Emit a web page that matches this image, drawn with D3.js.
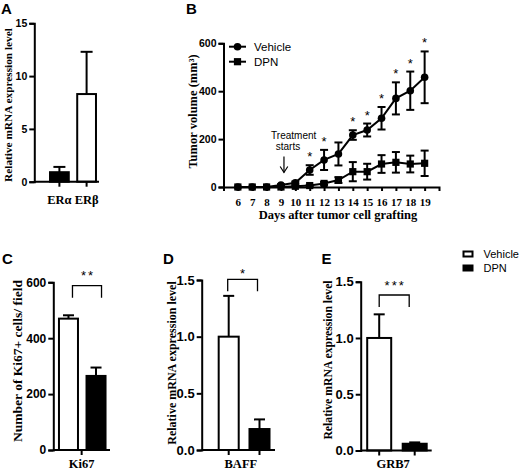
<!DOCTYPE html>
<html><head><meta charset="utf-8">
<script src="https://cdn.jsdelivr.net/npm/d3@7"></script>
<style>body{margin:0;background:#fff}</style>
</head><body>
<svg id="c" width="520" height="470"></svg>
<script>
// ---------------- DATA ----------------
// Panel A
const aCategories = ["ERα", "ERβ"];
const aValues = [0.9, 8.3];
const aErrors = [0.5, 4.0];
const aTicks = [0, 5, 10, 15];
// Panel B
const bDays = [6, 7, 8, 9, 10, 11, 12, 13, 14, 15, 16, 17, 18, 19];
const bVehicleMean = [0, 0, 0, 8, 18, 71, 113, 138, 217, 238, 287, 370, 402, 458];
const bVehicleSem  = [0, 0, 0, 3, 5, 20, 42, 48, 20, 27, 47, 67, 80, 108];
const bDpnMean = [0, 0, 0, 0, 3, 6, 15, 29, 64, 64, 96, 103, 96, 99];
const bDpnSem  = [0, 0, 0, 0, 2, 3, 6, 12, 40, 33, 37, 43, 35, 53];
const bSignificantDays = [11, 12, 14, 15, 16, 17, 18, 19];
const bTicks = [0, 200, 400, 600];
const bTreatmentDay = 9;
// Panels C, D, E
const groups = ["Vehicle", "DPN"];
const cCategory = "Ki67";
const cValues = [470, 265];
const cErrors = [12, 30];
const cTicks = [0, 200, 400, 600];
const cStars = "**";
const dCategory = "BAFF";
const dValues = [1.0, 0.185];
const dErrors = [0.36, 0.085];
const dStars = "*";
const eCategory = "GRB7";
const eValues = [1.0, 0.06];
const eErrors = [0.21, 0.012];
const eStars = "***";
const mrnaTicks = [0, 0.5, 1.0, 1.5];

// ---------------- DRAW ----------------
const SANS = "'Liberation Sans', Arial, sans-serif";
const SERIF = "'Liberation Serif', 'Times New Roman', serif";
const svg = d3.select("#c");

function styleAxis(g, size, family) {
  g.select(".domain").attr("stroke", "#000").attr("stroke-width", 2);
  g.selectAll(".tick line").attr("stroke", "#000").attr("stroke-width", 2);
  g.selectAll(".tick text").attr("font-family", family).attr("font-weight", "bold")
    .attr("font-size", size).attr("fill", "#000");
}
function letter(t, x, y) {
  svg.append("text").attr("x", x).attr("y", y).text(t)
    .attr("font-family", SANS).attr("font-weight", "bold").attr("font-size", 15);
}
function yTitle(t, x, y, size) {
  svg.append("text").attr("transform", `translate(${x},${y}) rotate(-90)`)
    .attr("text-anchor", "middle").attr("font-family", SERIF).attr("font-weight", "bold")
    .attr("font-size", size).text(t);
}
function errBar(g, cx, yTop, yBot, w) {
  g.append("line").attr("x1", cx).attr("x2", cx).attr("y1", yTop).attr("y2", yBot)
    .attr("stroke", "#000").attr("stroke-width", 2);
  g.append("line").attr("x1", cx - w / 2).attr("x2", cx + w / 2).attr("y1", yTop).attr("y2", yTop)
    .attr("stroke", "#000").attr("stroke-width", 2);
}

// ---- Panel A ----
{
  const y = d3.scaleLinear().domain([0, 15]).range([181.7, 23.3]);
  const x = d3.scaleBand().domain(aCategories).range([45.8, 100.2]).paddingInner(0.31).paddingOuter(0.155);
  const g = svg.append("g");
  aCategories.forEach((c, i) => {
    const cx = x(c) + x.bandwidth() / 2;
    errBar(g, cx, y(aValues[i] + aErrors[i]), y(aValues[i]), 12);
    g.append("rect").attr("x", x(c)).attr("width", x.bandwidth())
      .attr("y", y(aValues[i])).attr("height", y(0) - y(aValues[i]))
      .attr("fill", i === 0 ? "#000" : "#fff").attr("stroke", "#000").attr("stroke-width", 2);
  });
  const gx = svg.append("g").attr("transform", `translate(0,${y(0)})`)
    .call(d3.axisBottom(x).tickSize(5).tickSizeOuter(0).tickPadding(8));
  styleAxis(gx, 12.5, SERIF);
  gx.select(".domain").remove();
  gx.append("line").attr("x1", 34.3).attr("x2", 99).attr("stroke", "#000").attr("stroke-width", 2);
  const gy = svg.append("g").attr("transform", "translate(34.3,0)")
    .call(d3.axisLeft(y).tickValues(aTicks).tickSize(5).tickPadding(2));
  styleAxis(gy, 10.5, SANS);
  yTitle("Relative mRNA expression level", 12, 105, 11.3);
  letter("A", 1, 13.5);
}

// ---- Panel B ----
{
  const x = d3.scaleLinear().domain([5, 20]).range([223.5, 439]);
  const y = d3.scaleLinear().domain([0, 600]).range([187, 43.3]);
  const g = svg.append("g");
  const gx = svg.append("g").attr("transform", `translate(0,${y(0)})`)
    .call(d3.axisBottom(x).tickValues(bDays).tickFormat(d3.format("d")).tickSize(4).tickSizeOuter(4).tickPadding(7));
  styleAxis(gx, 11, SERIF);
  const gy = svg.append("g").attr("transform", `translate(${x(5)},0)`)
    .call(d3.axisLeft(y).tickValues(bTicks).tickSize(5).tickPadding(2));
  styleAxis(gy, 10.5, SANS);

  const line = d3.line().x(d => x(d[0])).y(d => y(d[1]));
  const series = [
    { mean: bVehicleMean, sem: bVehicleSem, shape: "circle" },
    { mean: bDpnMean, sem: bDpnSem, shape: "square" }
  ];
  series.forEach(s => {
    const pts = bDays.map((d, i) => [d, s.mean[i]]);
    g.append("path").attr("d", line(pts)).attr("fill", "none").attr("stroke", "#000").attr("stroke-width", 2);
    bDays.forEach((d, i) => {
      if (s.sem[i] > 0) {
        const lo = y(Math.max(0, s.mean[i] - s.sem[i]));
        errBar(g, x(d), y(s.mean[i] + s.sem[i]), lo, 8);
        g.append("line").attr("x1", x(d) - 4).attr("x2", x(d) + 4).attr("y1", lo).attr("y2", lo)
          .attr("stroke", "#000").attr("stroke-width", 2);
      }
    });
    bDays.forEach((d, i) => {
      if (s.shape === "circle") {
        g.append("circle").attr("cx", x(d)).attr("cy", y(s.mean[i])).attr("r", 3.8).attr("fill", "#000");
      } else {
        g.append("rect").attr("x", x(d) - 3.6).attr("y", y(s.mean[i]) - 3.6)
          .attr("width", 7.2).attr("height", 7.2).attr("fill", "#000");
      }
    });
  });
  bSignificantDays.forEach(d => {
    const i = bDays.indexOf(d);
    g.append("text").attr("x", x(d)).attr("y", y(bVehicleMean[i] + bVehicleSem[i]) - 4)
      .attr("text-anchor", "middle").attr("font-family", SANS).attr("font-size", 13).text("*");
  });
  // treatment annotation
  const ax = x(bTreatmentDay) + 3;
  svg.append("text").attr("x", 293.7).attr("y", 138.5).attr("text-anchor", "middle")
    .attr("font-family", SANS).attr("font-size", 10).text("Treatment");
  svg.append("text").attr("x", 288).attr("y", 150).attr("text-anchor", "middle")
    .attr("font-family", SANS).attr("font-size", 10).text("starts");
  svg.append("line").attr("x1", ax).attr("x2", ax).attr("y1", 156.5).attr("y2", 172.5)
    .attr("stroke", "#000").attr("stroke-width", 1.2);
  svg.append("path").attr("d", `M${ax - 3.8},${166.5} L${ax},${172.5} L${ax + 3.8},${166.5}`)
    .attr("fill", "none").attr("stroke", "#000").attr("stroke-width", 1.2);
  // legend
  const leg = [{ t: "Vehicle", y: 46.7, shape: "circle" }, { t: "DPN", y: 61.7, shape: "square" }];
  leg.forEach(l => {
    svg.append("line").attr("x1", 229).attr("x2", 246).attr("y1", l.y).attr("y2", l.y)
      .attr("stroke", "#000").attr("stroke-width", 2);
    if (l.shape === "circle") svg.append("circle").attr("cx", 237.5).attr("cy", l.y).attr("r", 3.8);
    else svg.append("rect").attr("x", 233.9).attr("y", l.y - 3.6).attr("width", 7.2).attr("height", 7.2);
    svg.append("text").attr("x", 254).attr("y", l.y + 4.2).attr("font-family", SANS)
      .attr("font-size", 11.5).text(l.t);
  });
  yTitle("Tumor volume (mm³)", 196.5, 111.5, 12.5);
  svg.append("text").attr("x", 338).attr("y", 219).attr("text-anchor", "middle")
    .attr("font-family", SERIF).attr("font-weight", "bold").attr("font-size", 12.5)
    .text("Days after tumor cell grafting");
  letter("B", 186, 13.5);
}

// ---- Panels C, D, E ----
function barPanel(cfg) {
  const y = d3.scaleLinear().domain(cfg.domain).range(cfg.yRange);
  const inner = d3.scaleBand().domain(groups).range(cfg.innerRange)
    .paddingInner(cfg.pad).paddingOuter(cfg.pad / 2);
  const outer = d3.scaleBand().domain([cfg.category]).range([cfg.axisX, cfg.xEnd]);
  const g = svg.append("g");
  groups.forEach((gr, i) => {
    const cx = inner(gr) + inner.bandwidth() / 2;
    errBar(g, cx, y(cfg.values[i] + cfg.errors[i]), y(cfg.values[i]), 11);
    g.append("rect").attr("x", inner(gr)).attr("width", inner.bandwidth())
      .attr("y", y(cfg.values[i])).attr("height", y(0) - y(cfg.values[i]))
      .attr("fill", i === 0 ? "#fff" : "#000").attr("stroke", "#000").attr("stroke-width", 2);
  });
  // x axis with category label
  const gx = svg.append("g").attr("transform", `translate(0,${y(0)})`)
    .call(d3.axisBottom(outer).tickSize(cfg.centerTick ? 5 : 0).tickSizeOuter(0));
  styleAxis(gx, 12.5, SERIF);
  gx.selectAll(".tick text").attr("dx", cfg.labelDx || 0).attr("dy", null).attr("y", 468 - y(0));
  gx.select(".domain").remove();
  gx.append("line").attr("x1", cfg.axisX).attr("x2", cfg.xEnd).attr("stroke", "#000").attr("stroke-width", 2);
  if (!cfg.centerTick) {
    const gt = svg.append("g").attr("transform", `translate(0,${y(0)})`)
      .call(d3.axisBottom(inner).tickSize(5).tickSizeOuter(0).tickFormat(""));
    styleAxis(gt, 12.5, SERIF);
    gt.select(".domain").remove();
  }
  const gy = svg.append("g").attr("transform", `translate(${cfg.axisX},0)`)
    .call(d3.axisLeft(y).tickValues(cfg.ticks).tickFormat(cfg.fmt).tickSize(5).tickPadding(2));
  styleAxis(gy, cfg.tickSize, SANS);
  // significance bracket
  const x1 = inner(groups[0]) + inner.bandwidth() / 2 + cfg.bdx[0];
  const x2 = inner(groups[1]) + inner.bandwidth() / 2 + cfg.bdx[1];
  const top = cfg.bracketTop;
  svg.append("path").attr("d", `M${x1},${top + 12} V${top} H${x2} V${top + 12}`)
    .attr("fill", "none").attr("stroke", "#000").attr("stroke-width", 1.3);
  svg.append("text").attr("x", (x1 + x2) / 2 + 1).attr("y", top - cfg.starGap)
    .attr("text-anchor", "middle").attr("font-family", SANS).attr("font-size", 13)
    .attr("letter-spacing", 2).text(cfg.stars);
  yTitle(cfg.title, cfg.titleX, cfg.titleY, cfg.titleSize);
  letter(cfg.letter, cfg.letterX, 263.5);
}

barPanel({
  domain: [0, 600], yRange: [450, 282.3], innerRange: [54.7, 109.8], pad: 0.31,
  axisX: 53.3, xEnd: 110, category: cCategory, values: cValues, errors: cErrors,
  ticks: cTicks, fmt: d3.format("d"), tickSize: 12, centerTick: true,
  bdx: [4, 5.5], bracketTop: 285.7, starGap: 6, stars: cStars,
  title: "Number of Ki67+ cells/ field", titleX: 21.5, titleY: 361, titleSize: 13.5,
  letter: "C", letterX: 2
});
barPanel({
  domain: [0, 1.5], yRange: [450, 280], innerRange: [213.3, 274.9], pad: 0.35,
  axisX: 201.7, xEnd: 275, category: dCategory, values: dValues, errors: dErrors,
  ticks: mrnaTicks, fmt: d3.format(".1f"), tickSize: 13, centerTick: false, labelDx: 2.5,
  bdx: [-1, -2], bracketTop: 279.3, starGap: 1, stars: dStars,
  title: "Relative mRNA expression level", titleX: 175.5, titleY: 363, titleSize: 12,
  letter: "D", letterX: 163
});
barPanel({
  domain: [0, 1.5], yRange: [450.5, 281.7], innerRange: [361.45, 432.45], pad: 0.324,
  axisX: 360.7, xEnd: 431.7, category: eCategory, values: eValues, errors: eErrors,
  ticks: mrnaTicks, fmt: d3.format(".1f"), tickSize: 13, centerTick: false, labelDx: -3,
  bdx: [0, -5.5], bracketTop: 295, starGap: 5.5, stars: eStars,
  title: "Relative mRNA expression level", titleX: 331.5, titleY: 360, titleSize: 11.7,
  letter: "E", letterX: 321.5
});

// bottom legend
groups.forEach((gr, i) => {
  const yy = 251.5 + i * 14;
  svg.append("rect").attr("x", 463.5).attr("y", yy).attr("width", 9).attr("height", 5)
    .attr("fill", i === 0 ? "#fff" : "#000").attr("stroke", "#000").attr("stroke-width", 2);
  svg.append("text").attr("x", 483.5).attr("y", yy + 6.5).attr("font-family", SANS)
    .attr("font-size", 11).text(gr);
});
</script>
</body></html>
